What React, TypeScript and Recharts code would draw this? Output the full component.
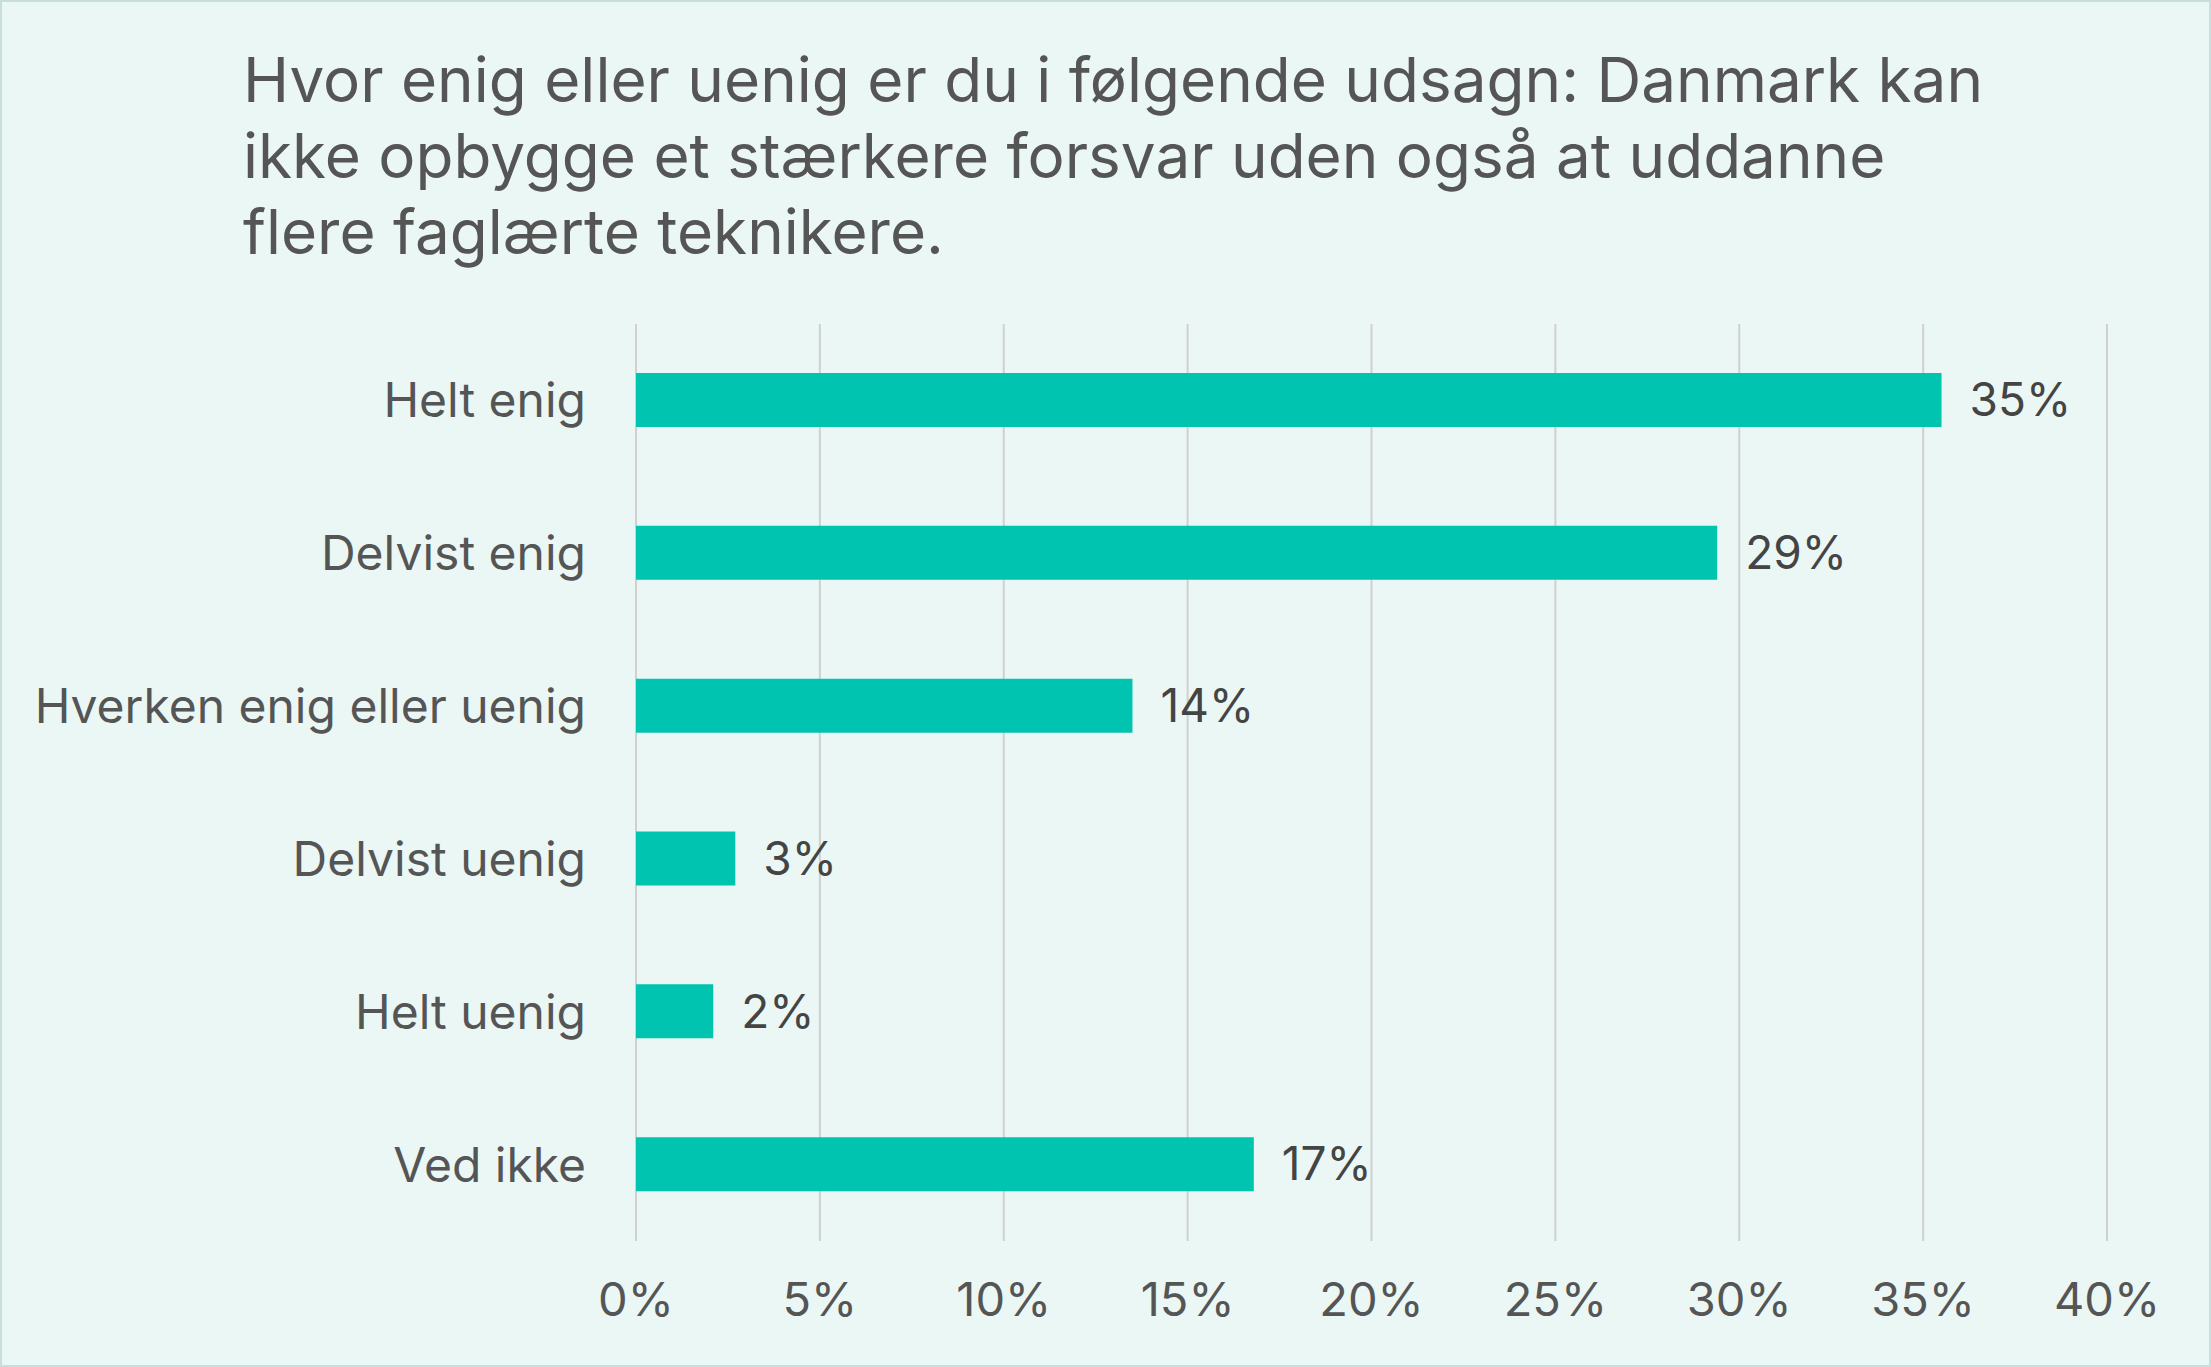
import React from "react";
import { BarChart, Bar, XAxis, YAxis, CartesianGrid, LabelList } from "recharts";

const categories = ["Helt enig", "Delvist enig", "Hverken enig eller uenig", "Delvist uenig", "Helt uenig", "Ved ikke"];
const values = [35.5, 29.4, 13.5, 2.7, 2.1, 16.8];
const valueLabels = ["35%", "29%", "14%", "3%", "2%", "17%"];
const xTicks = [0, 5, 10, 15, 20, 25, 30, 35, 40];
const titleLines = [
  "Hvor enig eller uenig er du i følgende udsagn: Danmark kan",
  "ikke opbygge et stærkere forsvar uden også at uddanne",
  "flere faglærte teknikere.",
];

const data = categories.map((c, i) => ({ name: c, value: values[i], label: valueLabels[i] }));

export default function App() {
  return (
    <div style={{ position: "absolute", left: 0, top: 0, width: 2211, height: 1367, background: "#eaf7f5", boxSizing: "border-box", border: "2px solid #c9dedb", fontFamily: "Inter, 'Noto Sans', sans-serif", overflow: "hidden" }}>
      <div style={{ position: "absolute", left: 241, top: 40, width: 1960, fontSize: 62, lineHeight: "76px", color: "#555555", whiteSpace: "nowrap" }}>
        {titleLines.map((l, i) => <div key={i}>{l}</div>)}
      </div>
      <div style={{ position: "absolute", left: 0, top: 0 }}>
        <BarChart width={2207} height={1363} data={data} layout="vertical" margin={{ top: 322, right: 102, bottom: 0, left: 0 }}>
          <CartesianGrid horizontal={false} stroke="#d0d0d0" strokeWidth={2} />
          <XAxis type="number" domain={[0, 40]} ticks={xTicks} tickFormatter={(v) => v + "%"} axisLine={false} tickLine={false} height={124} tick={{ fill: "#555555", fontSize: 47 }} tickMargin={36} interval={0} />
          <YAxis type="category" dataKey="name" width={634} axisLine={false} tickLine={false} tick={{ fill: "#555555", fontSize: 48 }} tickMargin={44} />
          <Bar dataKey="value" fill="#00c4b0" barSize={54} isAnimationActive={false}>
            <LabelList dataKey="label" position="right" offset={28} fill="#444444" fontSize={46} />
          </Bar>
        </BarChart>
      </div>
    </div>
  );
}
